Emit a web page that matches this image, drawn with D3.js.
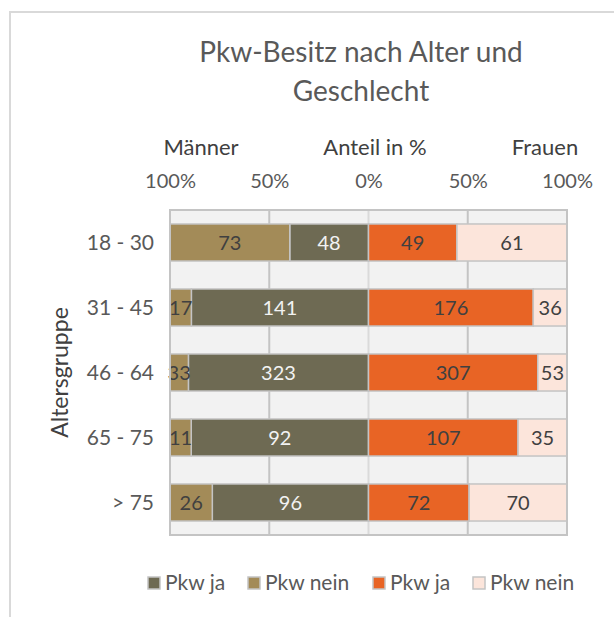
<!DOCTYPE html>
<html>
<head>
<meta charset="utf-8">
<script src="https://cdn.jsdelivr.net/npm/d3@7"></script>
<style>
  body { margin: 0; background: #ffffff; }
</style>
</head>
<body>
<div id="chart"></div>
<script>
let width = 614;
let height = 617;

// data
let groups = ["18 - 30", "31 - 45", "46 - 64", "65 - 75", "> 75"];
let menYes = [48, 141, 323, 92, 96];
let menNo = [73, 17, 33, 11, 26];
let womenYes = [49, 176, 307, 107, 72];
let womenNo = [61, 36, 53, 35, 70];
let tickValues = [-1, -0.5, 0, 0.5, 1];
let legendLabels = ["Pkw ja", "Pkw nein", "Pkw ja", "Pkw nein"];
let colors = ["#6e6a53", "#a38b58", "#e86425", "#fce5db"];
let labelColors = ["#f2f2f2", "#404040", "#404040", "#404040"];

let font = "Lato, 'Open Sans', sans-serif";
let textGray = "#595959";

let plot = { left: 170, right: 567, top: 210, bottom: 535 };

let svg = d3.select("#chart")
  .append("svg")
  .attr("width", width)
  .attr("height", height)
  .style("font-family", font);

// outer chart frame
svg.append("path")
  .attr("d", `M10,${height} V12 H${width}`)
  .attr("fill", "none")
  .attr("stroke", "#d9d9d9")
  .attr("stroke-width", 2);

let x = d3.scaleLinear()
  .domain([-1, 1])
  .range([plot.left, plot.right]);

let y = d3.scaleBand()
  .domain(groups)
  .range([plot.top, plot.bottom])
  .paddingInner(0.43)
  .paddingOuter(0.215);

// build segments: [x0, x1, value, seriesIndex]
let segments = [];
groups.forEach((g, i) => {
  let mTot = menYes[i] + menNo[i];
  let wTot = womenYes[i] + womenNo[i];
  let mYes = menYes[i] / mTot;
  let wYes = womenYes[i] / wTot;
  segments.push({ g: g, x0: -mYes, x1: 0, v: menYes[i], s: 0 });
  segments.push({ g: g, x0: -1, x1: -mYes, v: menNo[i], s: 1 });
  segments.push({ g: g, x0: 0, x1: wYes, v: womenYes[i], s: 2 });
  segments.push({ g: g, x0: wYes, x1: 1, v: womenNo[i], s: 3 });
});

// plot background
svg.append("rect")
  .attr("x", plot.left)
  .attr("y", plot.top)
  .attr("width", plot.right - plot.left)
  .attr("height", plot.bottom - plot.top)
  .attr("fill", "#f2f2f2");

// vertical gridlines
svg.append("g")
  .selectAll("line")
  .data(tickValues)
  .enter()
  .append("line")
  .attr("x1", d => x(d))
  .attr("x2", d => x(d))
  .attr("y1", plot.top)
  .attr("y2", plot.bottom)
  .attr("stroke", d => d == 0 ? "#dadada" : "#c4c4c4")
  .attr("stroke-width", 2);

// bars
svg.append("g")
  .selectAll("rect")
  .data(segments)
  .enter()
  .append("rect")
  .attr("x", d => x(d.x0))
  .attr("y", d => y(d.g))
  .attr("width", d => x(d.x1) - x(d.x0))
  .attr("height", y.bandwidth())
  .attr("fill", d => colors[d.s])
  .attr("stroke", "#c4c4c4")
  .attr("stroke-width", 1.5);

// bar labels
svg.append("g")
  .selectAll("text")
  .data(segments)
  .enter()
  .append("text")
  .attr("x", d => (x(d.x0) + x(d.x1)) / 2)
  .attr("y", d => y(d.g) + y.bandwidth() / 2)
  .attr("dy", "0.35em")
  .attr("text-anchor", "middle")
  .attr("font-size", 20)
  .attr("fill", d => labelColors[d.s])
  .text(d => d.v);

// plot border
svg.append("rect")
  .attr("x", plot.left)
  .attr("y", plot.top)
  .attr("width", plot.right - plot.left)
  .attr("height", plot.bottom - plot.top)
  .attr("fill", "none")
  .attr("stroke", "#c4c4c4")
  .attr("stroke-width", 2);

// top axis (percent)
let xAxis = svg.append("g")
  .attr("transform", `translate(0, ${plot.top - 19})`)
  .call(d3.axisTop(x).tickValues(tickValues).tickSize(0).tickFormat(d => Math.round(Math.abs(d) * 100) + "%"));
xAxis.select(".domain").remove();
xAxis.selectAll("text")
  .attr("font-size", 20)
  .attr("font-family", font)
  .attr("fill", textGray);

// left axis (groups)
let yAxis = svg.append("g")
  .attr("transform", `translate(${plot.left - 13}, 0)`)
  .call(d3.axisLeft(y).tickSize(0));
yAxis.select(".domain").remove();
yAxis.selectAll("text")
  .attr("font-size", 21)
  .attr("font-family", font)
  .attr("fill", textGray)
  .attr("dy", "0.35em");

// title
svg.append("text")
  .attr("x", 361)
  .attr("text-anchor", "middle")
  .attr("font-size", 28)
  .attr("fill", textGray)
  .selectAll("tspan")
  .data(["Pkw-Besitz nach Alter und", "Geschlecht"])
  .enter()
  .append("tspan")
  .attr("x", 361)
  .attr("y", (d, i) => 62 + i * 39)
  .text(d => d);

// header labels
let headers = [["Männer", 201], ["Anteil in %", 375], ["Frauen", 545]];
svg.append("g")
  .selectAll("text")
  .data(headers)
  .enter()
  .append("text")
  .attr("x", d => d[1])
  .attr("y", 155)
  .attr("text-anchor", "middle")
  .attr("font-size", 22)
  .attr("fill", "#404040")
  .text(d => d[0]);

// y axis title
svg.append("text")
  .attr("transform", `translate(68, ${(plot.top + plot.bottom) / 2}) rotate(-90)`)
  .attr("text-anchor", "middle")
  .attr("font-size", 23)
  .attr("fill", "#404040")
  .text("Altersgruppe");

// legend
let legendX = [148, 248, 373, 473];
let legend = svg.append("g")
  .selectAll("g")
  .data(legendLabels)
  .enter()
  .append("g")
  .attr("transform", (d, i) => `translate(${legendX[i]}, 583)`);
legend.append("rect")
  .attr("x", 0)
  .attr("y", -6)
  .attr("width", 12)
  .attr("height", 12)
  .attr("fill", (d, i) => colors[i])
  .attr("stroke", "#c4c4c4")
  .attr("stroke-width", 1.5);
legend.append("text")
  .attr("x", 17)
  .attr("dy", "0.35em")
  .attr("font-size", 21)
  .attr("fill", textGray)
  .text(d => d);
</script>
</body>
</html>
